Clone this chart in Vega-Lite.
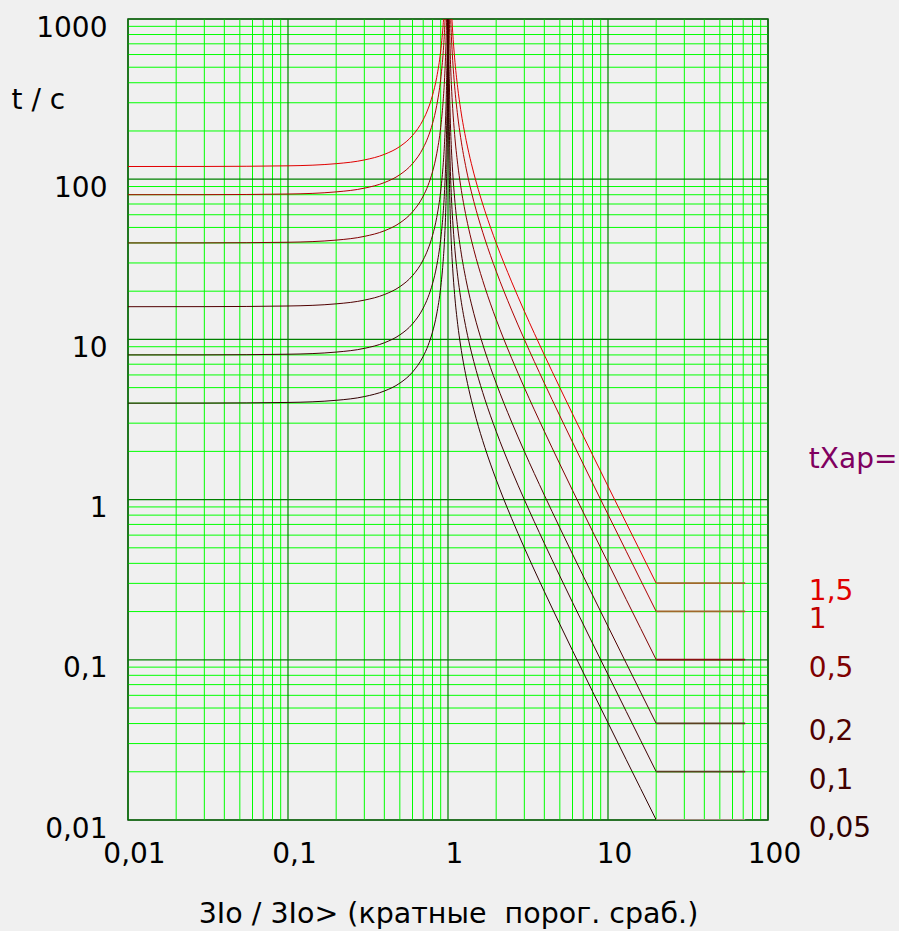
{
  "$schema": "https://vega.github.io/schema/vega-lite/v6.json",
  "width": 640,
  "height": 801,
  "autosize": "none",
  "padding": {"left": 128, "top": 19, "right": 131, "bottom": 111},
  "background": "#f0f0f0",
  "config": {
    "font": "DejaVu Sans",
    "view": {"stroke": "#1e3a1e", "strokeWidth": 1.5},
    "axis": {"domain": false, "ticks": false, "tickSize": 0, "grid": false, "gridOpacity": 0, "labelOverlap": false, "labelFlush": false, "labelBound": false}
  },
  "datasets": {
    "gx": [
      {"v": 0.01, "m": "maj"}, {"v": 0.02, "m": "min"}, {"v": 0.03, "m": "min"}, {"v": 0.04, "m": "min"}, {"v": 0.05, "m": "min"}, {"v": 0.06, "m": "min"}, {"v": 0.07, "m": "min"}, {"v": 0.08, "m": "min"}, {"v": 0.09, "m": "min"},
      {"v": 0.1, "m": "maj"}, {"v": 0.2, "m": "min"}, {"v": 0.3, "m": "min"}, {"v": 0.4, "m": "min"}, {"v": 0.5, "m": "min"}, {"v": 0.6, "m": "min"}, {"v": 0.7, "m": "min"}, {"v": 0.8, "m": "min"}, {"v": 0.9, "m": "min"},
      {"v": 1, "m": "maj"}, {"v": 2, "m": "min"}, {"v": 3, "m": "min"}, {"v": 4, "m": "min"}, {"v": 5, "m": "min"}, {"v": 6, "m": "min"}, {"v": 7, "m": "min"}, {"v": 8, "m": "min"}, {"v": 9, "m": "min"},
      {"v": 10, "m": "maj"}, {"v": 20, "m": "min"}, {"v": 30, "m": "min"}, {"v": 40, "m": "min"}, {"v": 50, "m": "min"}, {"v": 60, "m": "min"}, {"v": 70, "m": "min"}, {"v": 80, "m": "min"}, {"v": 90, "m": "min"},
      {"v": 100, "m": "maj"}
    ],
    "gy": [
      {"v": 0.01, "m": "maj"}, {"v": 0.02, "m": "min"}, {"v": 0.03, "m": "min"}, {"v": 0.04, "m": "min"}, {"v": 0.05, "m": "min"}, {"v": 0.06, "m": "min"}, {"v": 0.07, "m": "min"}, {"v": 0.08, "m": "min"}, {"v": 0.09, "m": "min"},
      {"v": 0.1, "m": "maj"}, {"v": 0.2, "m": "min"}, {"v": 0.3, "m": "min"}, {"v": 0.4, "m": "min"}, {"v": 0.5, "m": "min"}, {"v": 0.6, "m": "min"}, {"v": 0.7, "m": "min"}, {"v": 0.8, "m": "min"}, {"v": 0.9, "m": "min"},
      {"v": 1, "m": "maj"}, {"v": 2, "m": "min"}, {"v": 3, "m": "min"}, {"v": 4, "m": "min"}, {"v": 5, "m": "min"}, {"v": 6, "m": "min"}, {"v": 7, "m": "min"}, {"v": 8, "m": "min"}, {"v": 9, "m": "min"},
      {"v": 10, "m": "maj"}, {"v": 20, "m": "min"}, {"v": 30, "m": "min"}, {"v": 40, "m": "min"}, {"v": 50, "m": "min"}, {"v": 60, "m": "min"}, {"v": 70, "m": "min"}, {"v": 80, "m": "min"}, {"v": 90, "m": "min"},
      {"v": 100, "m": "maj"}, {"v": 200, "m": "min"}, {"v": 300, "m": "min"}, {"v": 400, "m": "min"}, {"v": 500, "m": "min"}, {"v": 600, "m": "min"}, {"v": 700, "m": "min"}, {"v": 800, "m": "min"}, {"v": 900, "m": "min"},
      {"v": 1000, "m": "maj"}
    ],
    "curves": [
      {"s": "L", "x": 0.01, "k005": 4.0004, "k01": 8.0008, "k02": 16.0016, "k05": 40.004, "k1": 80.008, "k15": 120.012},
      {"s": "L", "x": 0.03, "k005": 4.0036, "k01": 8.0072, "k02": 16.014, "k05": 40.036, "k1": 80.072, "k15": 120.11},
      {"s": "L", "x": 0.1, "k005": 4.0404, "k01": 8.0808, "k02": 16.162, "k05": 40.404, "k1": 80.808, "k15": 121.21},
      {"s": "L", "x": 0.2, "k005": 4.1667, "k01": 8.3333, "k02": 16.667, "k05": 41.667, "k1": 83.333, "k15": 125},
      {"s": "L", "x": 0.3, "k005": 4.3956, "k01": 8.7912, "k02": 17.582, "k05": 43.956, "k1": 87.912, "k15": 131.87},
      {"s": "L", "x": 0.4, "k005": 4.7619, "k01": 9.5238, "k02": 19.048, "k05": 47.619, "k1": 95.238, "k15": 142.86},
      {"s": "L", "x": 0.5, "k005": 5.3333, "k01": 10.667, "k02": 21.333, "k05": 53.333, "k1": 106.67, "k15": 160},
      {"s": "L", "x": 0.6, "k005": 6.25, "k01": 12.5, "k02": 25, "k05": 62.5, "k1": 125, "k15": 187.5},
      {"s": "L", "x": 0.7, "k005": 7.8431, "k01": 15.686, "k02": 31.373, "k05": 78.431, "k1": 156.86, "k15": 235.29},
      {"s": "L", "x": 0.75, "k005": 9.1429, "k01": 18.286, "k02": 36.571, "k05": 91.429, "k1": 182.86, "k15": 274.29},
      {"s": "L", "x": 0.8, "k005": 11.111, "k01": 22.222, "k02": 44.444, "k05": 111.11, "k1": 222.22, "k15": 333.33},
      {"s": "L", "x": 0.85, "k005": 14.414, "k01": 28.829, "k02": 57.658, "k05": 144.14, "k1": 288.29, "k15": 432.43},
      {"s": "L", "x": 0.9, "k005": 21.053, "k01": 42.105, "k02": 84.211, "k05": 210.53, "k1": 421.05, "k15": 631.58},
      {"s": "L", "x": 0.93, "k005": 29.608, "k01": 59.215, "k02": 118.43, "k05": 296.08, "k1": 592.15, "k15": 888.23},
      {"s": "L", "x": 0.95, "k005": 41.026, "k01": 82.051, "k02": 164.1, "k05": 410.26, "k1": 820.51, "k15": 1230.8},
      {"s": "L", "x": 0.97, "k005": 67.682, "k01": 135.36, "k02": 270.73, "k05": 676.82, "k1": 1353.6, "k15": 2030.5},
      {"s": "L", "x": 0.98, "k005": 101.01, "k01": 202.02, "k02": 404.04, "k05": 1010.1, "k1": 2020.2, "k15": 3030.3},
      {"s": "L", "x": 0.99, "k005": 201.01, "k01": 402.01, "k02": 804.02, "k05": 2010.1, "k1": 4020.1, "k15": 6030.2},
      {"s": "L", "x": 0.995, "k005": 401.0, "k01": 802.0, "k02": 1604.0, "k05": 4010.0, "k1": 8020.1, "k15": 12030},
      {"s": "L", "x": 0.999, "k005": 2001, "k01": 4002, "k02": 8004, "k05": 20010, "k1": 40020, "k15": 60030},
      {"s": "R", "x": 1.001, "k005": 1999, "k01": 3998, "k02": 7996, "k05": 19990, "k1": 39980, "k15": 59970},
      {"s": "R", "x": 1.002, "k005": 999, "k01": 1998, "k02": 3996, "k05": 9990, "k1": 19980, "k15": 29970},
      {"s": "R", "x": 1.005, "k005": 399.0, "k01": 798.0, "k02": 1596.0, "k05": 3990.0, "k1": 7980.0, "k15": 11970},
      {"s": "R", "x": 1.01, "k005": 199.0, "k01": 398.01, "k02": 796.02, "k05": 1990.0, "k1": 3980.1, "k15": 5970.1},
      {"s": "R", "x": 1.02, "k005": 99.01, "k01": 198.02, "k02": 396.04, "k05": 990.1, "k1": 1980.2, "k15": 2970.3},
      {"s": "R", "x": 1.03, "k005": 65.68, "k01": 131.36, "k02": 262.72, "k05": 656.8, "k1": 1313.6, "k15": 1970.4},
      {"s": "R", "x": 1.05, "k005": 39.024, "k01": 78.049, "k02": 156.1, "k05": 390.24, "k1": 780.49, "k15": 1170.7},
      {"s": "R", "x": 1.07, "k005": 27.605, "k01": 55.21, "k02": 110.42, "k05": 276.05, "k1": 552.1, "k15": 828.15},
      {"s": "R", "x": 1.1, "k005": 19.048, "k01": 38.095, "k02": 76.19, "k05": 190.48, "k1": 380.95, "k15": 571.43},
      {"s": "R", "x": 1.15, "k005": 12.403, "k01": 24.806, "k02": 49.612, "k05": 124.03, "k1": 248.06, "k15": 372.09},
      {"s": "R", "x": 1.2, "k005": 9.0909, "k01": 18.182, "k02": 36.364, "k05": 90.909, "k1": 181.82, "k15": 272.73},
      {"s": "R", "x": 1.3, "k005": 5.7971, "k01": 11.594, "k02": 23.188, "k05": 57.971, "k1": 115.94, "k15": 173.91},
      {"s": "R", "x": 1.4, "k005": 4.1667, "k01": 8.3333, "k02": 16.667, "k05": 41.667, "k1": 83.333, "k15": 125},
      {"s": "R", "x": 1.5, "k005": 3.2, "k01": 6.4, "k02": 12.8, "k05": 32, "k1": 64, "k15": 96},
      {"s": "R", "x": 1.7, "k005": 2.1164, "k01": 4.2328, "k02": 8.4656, "k05": 21.164, "k1": 42.328, "k15": 63.492},
      {"s": "R", "x": 2, "k005": 1.3333, "k01": 2.6667, "k02": 5.3333, "k05": 13.333, "k1": 26.667, "k15": 40},
      {"s": "R", "x": 2.5, "k005": 0.7619, "k01": 1.5238, "k02": 3.0476, "k05": 7.619, "k1": 15.238, "k15": 22.857},
      {"s": "R", "x": 3, "k005": 0.5, "k01": 1, "k02": 2, "k05": 5, "k1": 10, "k15": 15},
      {"s": "R", "x": 4, "k005": 0.26667, "k01": 0.53333, "k02": 1.0667, "k05": 2.6667, "k1": 5.3333, "k15": 8},
      {"s": "R", "x": 5, "k005": 0.16667, "k01": 0.33333, "k02": 0.66667, "k05": 1.6667, "k1": 3.3333, "k15": 5},
      {"s": "R", "x": 6, "k005": 0.11429, "k01": 0.22857, "k02": 0.45714, "k05": 1.1429, "k1": 2.2857, "k15": 3.4286},
      {"s": "R", "x": 8, "k005": 0.063492, "k01": 0.12698, "k02": 0.25397, "k05": 0.63492, "k1": 1.2698, "k15": 1.9048},
      {"s": "R", "x": 10, "k005": 0.040404, "k01": 0.080808, "k02": 0.16162, "k05": 0.40404, "k1": 0.80808, "k15": 1.2121},
      {"s": "R", "x": 13, "k005": 0.02381, "k01": 0.047619, "k02": 0.095238, "k05": 0.2381, "k1": 0.47619, "k15": 0.71429},
      {"s": "R", "x": 16, "k005": 0.015686, "k01": 0.031373, "k02": 0.062745, "k05": 0.15686, "k1": 0.31373, "k15": 0.47059},
      {"s": "R", "x": 20, "k005": 0.010025, "k01": 0.02005, "k02": 0.0401, "k05": 0.10025, "k1": 0.2005, "k15": 0.30075}
    ],
    "tails": [
      {"x": 20, "k005": 0.010025, "k01": 0.02005, "k02": 0.0401, "k05": 0.10025, "k1": 0.2005, "k15": 0.30075},
      {"x": 72, "k005": 0.010025, "k01": 0.02005, "k02": 0.0401, "k05": 0.10025, "k1": 0.2005, "k15": 0.30075}
    ],
    "labels": [
      {"lab": "tXap=", "x": 180, "t": 2},
      {"lab": "1,5", "x": 180, "t": 0.30075},
      {"lab": "1", "x": 180, "t": 0.2005},
      {"lab": "0,5", "x": 180, "t": 0.10025},
      {"lab": "0,2", "x": 180, "t": 0.0401},
      {"lab": "0,1", "x": 180, "t": 0.02005},
      {"lab": "0,05", "x": 180, "t": 0.010025}
    ]
  },
  "layer": [
    {
      "data": {"name": "gx"},
      "transform": [{"filter": "datum.m == 'min'"}],
      "mark": {"type": "rule", "color": "#00ff00", "strokeWidth": 1},
      "encoding": {
        "x": {
          "field": "v", "type": "quantitative",
          "scale": {"type": "log", "domain": [0.01, 100], "nice": false},
          "axis": {
            "values": [0.01, 0.1, 1, 10, 100],
            "labelExpr": "replace(toString(datum.value), '.', ',')",
            "labelFontSize": 28, "labelColor": "#000000", "labelPadding": 20, "labelOffset": 6,
            "title": "3Io / 3Io> (кратные\u00a0 порог. сраб.)",
            "titleFontSize": 28.5, "titleFontWeight": "normal", "titleColor": "#000000",
            "titleX": 320, "titleY": 93, "titleBaseline": "middle", "titleAlign": "center"
          }
        }
      }
    },
    {
      "data": {"name": "gy"},
      "transform": [{"filter": "datum.m == 'min'"}],
      "mark": {"type": "rule", "color": "#00ff00", "strokeWidth": 1},
      "encoding": {
        "y": {
          "field": "v", "type": "quantitative",
          "scale": {"type": "log", "domain": [0.01, 1000], "nice": false},
          "axis": {
            "values": [0.01, 0.1, 1, 10, 100, 1000],
            "labelExpr": "replace(toString(datum.value), '.', ',')",
            "labelFontSize": 28, "labelColor": "#000000", "labelPadding": 21, "labelOffset": 9,
            "title": "t / c",
            "titleFontSize": 28, "titleFontWeight": "normal", "titleColor": "#000000",
            "titleAngle": 0, "titleX": -117, "titleY": 81, "titleBaseline": "middle", "titleAlign": "left"
          }
        }
      }
    },
    {
      "data": {"name": "gx"},
      "transform": [{"filter": "datum.m == 'maj'"}],
      "mark": {"type": "rule", "color": "#008000", "strokeWidth": 1.2},
      "encoding": {"x": {"field": "v", "type": "quantitative"}}
    },
    {
      "data": {"name": "gy"},
      "transform": [{"filter": "datum.m == 'maj'"}],
      "mark": {"type": "rule", "color": "#008000", "strokeWidth": 1.2},
      "encoding": {"y": {"field": "v", "type": "quantitative"}}
    },
    {
      "data": {"name": "curves"},
      "transform": [{"fold": ["k005", "k01", "k02", "k05", "k1", "k15"], "as": ["k", "t"]}],
      "mark": {"type": "line", "clip": true, "strokeWidth": 1, "interpolate": "monotone"},
      "encoding": {
        "x": {"field": "x", "type": "quantitative"},
        "y": {"field": "t", "type": "quantitative"},
        "color": {"field": "k", "type": "nominal", "legend": null,
          "scale": {"domain": ["k005", "k01", "k02", "k05", "k1", "k15"], "range": ["#300000", "#400000", "#500000", "#800000", "#b00000", "#e00000"]}},
        "detail": {"field": "s"}
      }
    },
    {
      "data": {"name": "tails"},
      "transform": [{"fold": ["k005", "k01", "k02", "k05", "k1", "k15"], "as": ["k", "t"]}],
      "mark": {"type": "line", "clip": true, "strokeWidth": 1.8},
      "encoding": {
        "x": {"field": "x", "type": "quantitative"},
        "y": {"field": "t", "type": "quantitative"},
        "color": {"field": "k", "type": "nominal", "legend": null,
          "scale": {"domain": ["k005", "k01", "k02", "k05", "k1", "k15"], "range": ["#9a8a7a", "#5a4020", "#5a4020", "#8b1010", "#a0682a", "#a0682a"]}}
      }
    },
    {
      "data": {"name": "labels"},
      "mark": {"type": "text", "align": "left", "baseline": "middle", "dy": 9, "fontSize": 28, "clip": false},
      "encoding": {
        "x": {"field": "x", "type": "quantitative"},
        "y": {"field": "t", "type": "quantitative"},
        "text": {"field": "lab"},
        "color": {"field": "lab", "type": "nominal", "legend": null,
          "scale": {"domain": ["tXap=", "1,5", "1", "0,5", "0,2", "0,1", "0,05"], "range": ["#800060", "#e00000", "#c00000", "#800000", "#500000", "#400000", "#300000"]}}
      }
    }
  ],
  "resolve": {"scale": {"color": "independent"}}
}
